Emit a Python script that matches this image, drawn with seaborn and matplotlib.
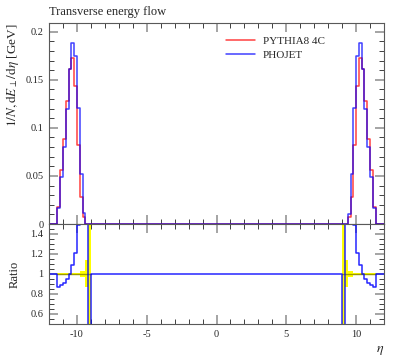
import matplotlib
matplotlib.use("Agg")
import matplotlib.pyplot as plt
from matplotlib.ticker import MultipleLocator, FuncFormatter
import numpy as np
import pandas as pd
import seaborn as sns

# eta binning (0.2 wide bins over the plotted range)
edges = np.round(np.arange(-12.0, 12.0 + 0.001, 0.2), 1)

# dE_T/deta in the two forward peaks, bins from -11.4 and from 9.4
pythia_left = [0.018, 0.056, 0.088, 0.128, 0.161, 0.173, 0.144, 0.082, 0.028, 0.007]
phojet_left = [0.0165, 0.049, 0.080, 0.120, 0.161, 0.188, 0.175, 0.121, 0.052, 0.011]
pythia_right = [0.007, 0.028, 0.082, 0.143, 0.173, 0.161, 0.128, 0.088, 0.056, 0.018]
phojet_right = [0.0106, 0.052, 0.121, 0.1745, 0.188, 0.161, 0.120, 0.080, 0.049, 0.0165]
peak_start = [-11.4, 9.4]

# ratio PHOJET / PYTHIA8, bins from -11.4 to -9.0 and from 9.0 to 11.4
ratio_left = [0.873, 0.89, 0.907, 0.947, 1.0, 1.09, 1.207, 1.49, 1.86, 1.57, 2.0, 0.0]
ratio_right = [0.0, 2.0, 1.57, 1.86, 1.49, 1.207, 1.09, 1.0, 0.947, 0.907, 0.89, 0.873]
ratio_start = [-11.4, 9.0]

# reference uncertainty band (half width) on the same bins as the ratio
band_left = [0.004, 0.004, 0.004, 0.004, 0.004, 0.004, 0.004, 0.012, 0.03, 0.03, 0.135, 1.0]
band_right = [1.0, 0.135, 0.03, 0.03, 0.012, 0.004, 0.004, 0.004, 0.004, 0.004, 0.004, 0.004]

nbins = len(edges) - 1
centers = (edges[:-1] + edges[1:]) / 2


def fill_bins(default, start, values):
	arr = np.full(nbins, default, dtype=float)
	for s, vals in zip(start, values):
		i0 = int(round((s - edges[0]) / 0.2))
		arr[i0:i0 + len(vals)] = vals
	return arr


df = pd.DataFrame({
	"eta": centers,
	"pythia": fill_bins(0.0, peak_start, [pythia_left, pythia_right]),
	"phojet": fill_bins(0.0, peak_start, [phojet_left, phojet_right]),
	"ratio": fill_bins(1.0, ratio_start, [ratio_left, ratio_right]),
	"band": fill_bins(0.0, ratio_start, [band_left, band_right]),
})
bin_list = list(edges)

sns.set_style("ticks")
plt.rcParams["font.family"] = ["Liberation Serif", "DejaVu Serif"]
plt.rcParams["mathtext.fontset"] = "stix"
plt.rcParams["axes.unicode_minus"] = False

fig = plt.figure(figsize=(3.97, 3.58), dpi=100)
ax = fig.add_axes([49 / 397, 1 - 224 / 358, 335 / 397, 201 / 358])
rax = fig.add_axes([49 / 397, 1 - 324 / 358, 335 / 397, 100 / 358], sharex=ax)

sns.histplot(data=df, x="eta", weights="pythia", bins=bin_list, element="step", fill=False,
			 color="#ff0000", alpha=0.75, linewidth=1.1, ax=ax, label="PYTHIA8 4C")
sns.histplot(data=df, x="eta", weights="phojet", bins=bin_list, element="step", fill=False,
			 color="#0000ff", alpha=0.75, linewidth=1.1, ax=ax, label="PHOJET")

ax.set_xlim(-12, 12)
ax.set_ylim(0, 0.209)
ax.set_ylabel(r"$1/N,\mathrm{d}E_{\perp}/\mathrm{d}\eta$ [GeV]", fontsize=9.5, loc="top")
ax.yaxis.set_label_coords(-0.085, 1.0)
ax.set_xlabel("")
ax.set_title("Transverse energy flow", loc="left", fontsize=9, pad=6)
ax.legend(loc="upper left", bbox_to_anchor=(0.515, 0.955), frameon=False, fontsize=8,
		  handlelength=2.6, handletextpad=0.7, labelspacing=0.35, borderaxespad=0)

# ratio panel: yellow band with an olive centre line only where the reference is filled
band = df["band"].values
lo = np.append(1 - band, 1 - band[-1])
hi = np.append(1 + band, 1 + band[-1])
rax.fill_between(edges, lo, hi, step="post", color="#ffff00", linewidth=0)
centre = np.where(band > 0, 1.0, np.nan)
rax.plot(edges, np.append(centre, np.nan), drawstyle="steps-post", color="#9a9a00", linewidth=1.0)
sns.histplot(data=df, x="eta", weights="ratio", bins=bin_list, element="step", fill=False,
			 color="#0000ff", alpha=0.85, linewidth=1.1, ax=rax)
rax.set_ylim(0.497, 1.5)
rax.set_ylabel("Ratio", fontsize=9)
rax.yaxis.set_label_coords(-0.085, 0.5)
rax.set_xlabel(r"$\eta$", fontsize=10, loc="right")
rax.xaxis.set_label_coords(1.0, -0.2)

fmt = FuncFormatter(lambda v, p: "%g" % v)
for a in (ax, rax):
	a.xaxis.set_major_locator(MultipleLocator(5))
	a.xaxis.set_minor_locator(MultipleLocator(1))
	a.yaxis.set_major_formatter(fmt)
	a.xaxis.set_major_formatter(fmt)
	a.tick_params(which="both", direction="in", top=True, right=True, labelsize=7.5, pad=4)
	a.tick_params(which="major", length=6.5, width=1.1, color="0.55")
	a.tick_params(which="minor", length=3.5, width=0.7, color="0.25")
	for sp in a.spines.values():
		sp.set_linewidth(0.8)
		sp.set_color("0.35")

ax.yaxis.set_major_locator(MultipleLocator(0.05))
ax.yaxis.set_minor_locator(MultipleLocator(0.01))
ax.tick_params(labelbottom=False)
rax.yaxis.set_major_locator(MultipleLocator(0.2))
rax.yaxis.set_minor_locator(MultipleLocator(0.05))

fig.savefig("out.png", dpi=100)
